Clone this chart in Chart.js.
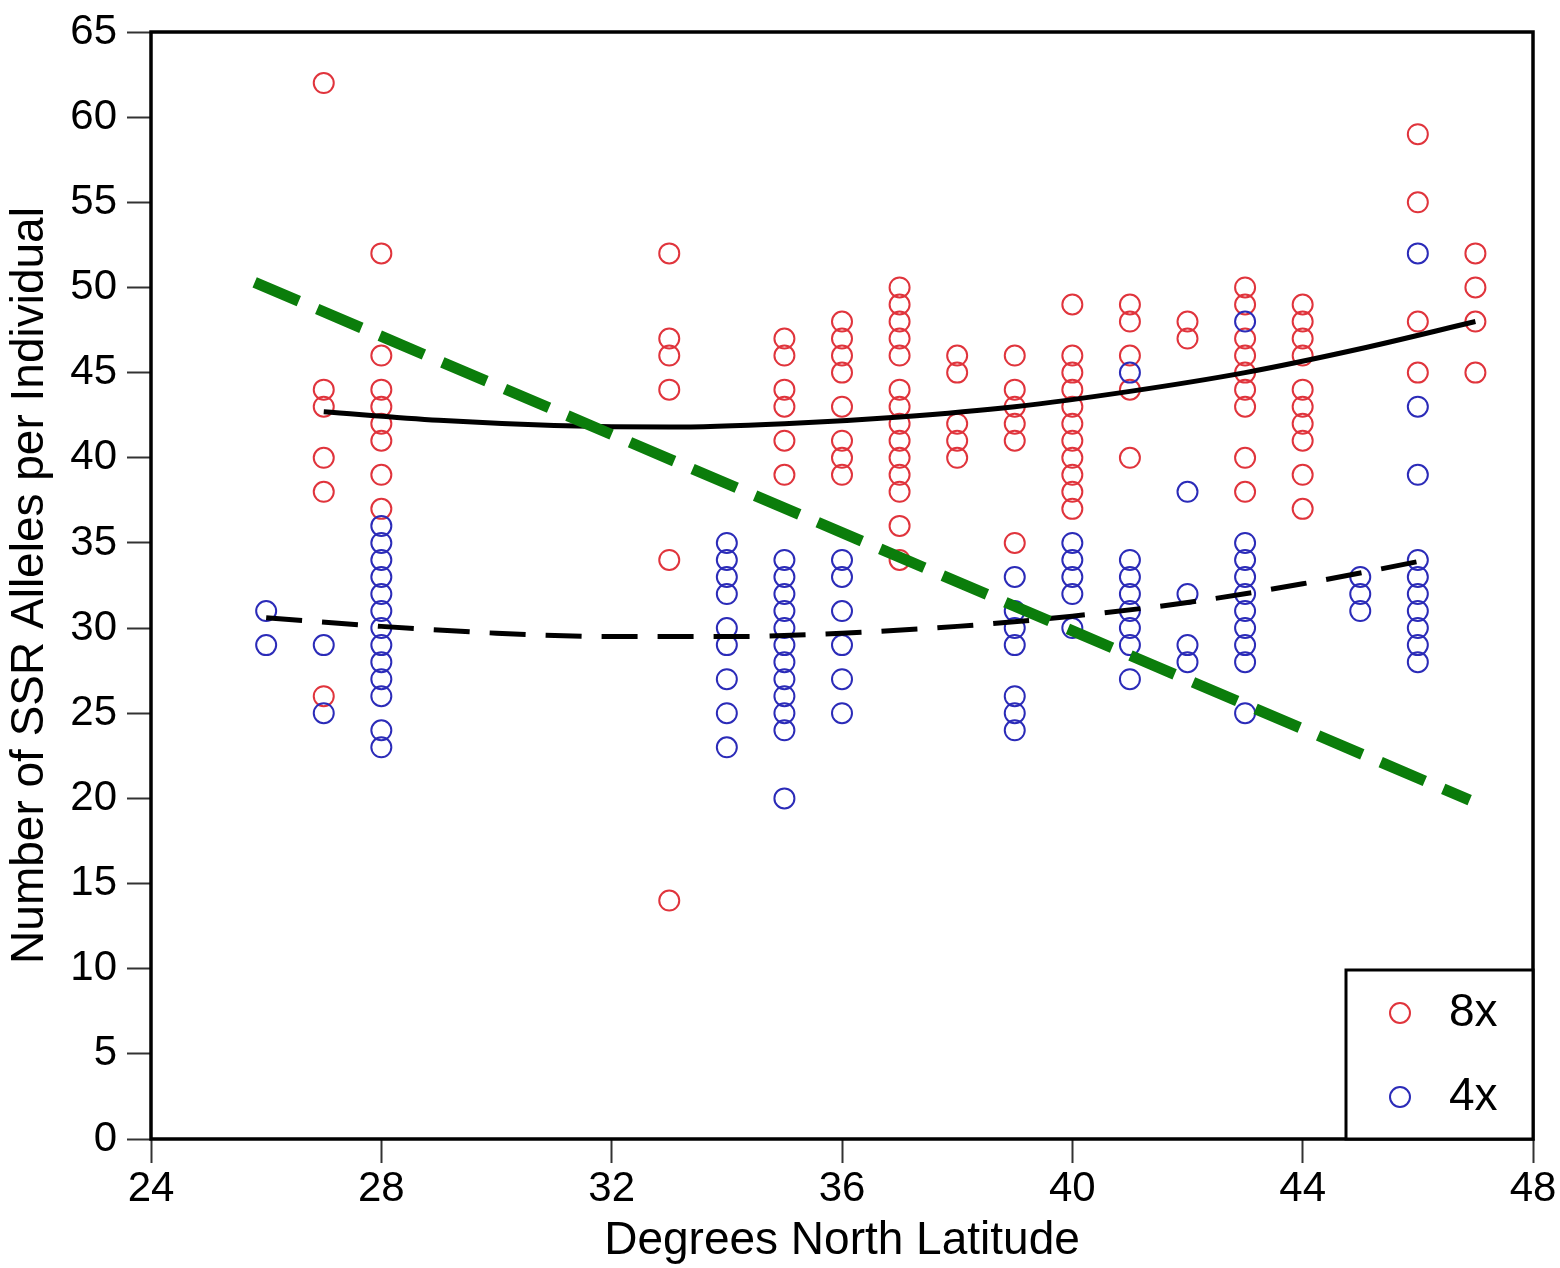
<!DOCTYPE html>
<html>
<head>
<meta charset="utf-8">
<script src="https://cdn.jsdelivr.net/npm/chart.js@4.4.1/dist/chart.umd.min.js"></script>
<style>
  html, body { margin: 0; padding: 0; background: #fff; }
  #wrap { width: 1560px; height: 1268px; }
</style>
</head>
<body>
<div id="wrap"><canvas id="c" width="1560" height="1268"></canvas></div>
<script>
// 8x (octoploid) individuals, grouped by latitude
const octoLat = [27, 28, 33, 35, 36, 37, 38, 39, 40, 41, 42, 43, 44, 46, 47];
const octoAlleles = [
  [62, 44, 43, 40, 38, 26],
  [52, 46, 44, 43, 42, 41, 39, 37],
  [52, 47, 46, 44, 34, 14],
  [47, 46, 44, 43, 41, 39],
  [48, 47, 46, 45, 43, 41, 40, 39],
  [50, 49, 48, 47, 46, 44, 43, 42, 41, 40, 39, 38, 36, 34],
  [46, 45, 42, 41, 40],
  [46, 44, 43, 42, 41, 35],
  [49, 46, 45, 44, 43, 42, 41, 40, 39, 38, 37],
  [49, 48, 46, 44, 40],
  [48, 47],
  [50, 49, 47, 46, 45, 44, 43, 40, 38],
  [49, 48, 47, 46, 44, 43, 42, 41, 39, 37],
  [59, 55, 48, 45],
  [52, 50, 48, 45]
];

// 4x (tetraploid) individuals, grouped by latitude
const tetraLat = [26, 27, 28, 34, 35, 36, 39, 40, 41, 42, 43, 45, 46];
const tetraAlleles = [
  [31, 29],
  [29, 25],
  [36, 35, 34, 33, 32, 31, 30, 29, 28, 27, 26, 24, 23],
  [35, 34, 33, 32, 30, 29, 27, 25, 23],
  [34, 33, 32, 31, 30, 29, 28, 27, 26, 25, 24, 20],
  [34, 33, 31, 29, 27, 25],
  [33, 31, 30, 29, 26, 25, 24],
  [35, 34, 33, 32, 30],
  [45, 34, 33, 32, 31, 30, 29, 27],
  [38, 32, 29, 28],
  [48, 35, 34, 33, 32, 31, 30, 29, 28, 25],
  [33, 32, 31],
  [52, 43, 39, 34, 33, 32, 31, 30, 29, 28]
];

// fitted curves
const fit8xLat = [27, 29, 31, 33, 35, 37, 39, 41, 43, 45, 47];
const fit8xVal = [42.7, 42.2, 41.9, 41.8, 42.0, 42.4, 43.0, 43.9, 45.0, 46.4, 48.0];
const fit4xLat = [26, 28, 30, 32, 34, 36, 38, 40, 42, 44, 46];
const fit4xVal = [30.6, 30.1, 29.7, 29.5, 29.5, 29.7, 30.1, 30.7, 31.5, 32.6, 33.9];

// green overlay line endpoints
const greenLat = [25.8, 46.9];
const greenVal = [50.3, 19.9];

const xTicks = [24, 28, 32, 36, 40, 44, 48];
const yTicks = [0, 5, 10, 15, 20, 25, 30, 35, 40, 45, 50, 55, 60, 65];

const RED = '#e0343c';
const BLUE = '#2b2bb8';
const FONT = "'Liberation Sans', Arial, Helvetica, sans-serif";

function toPoints(lats, groups) {
  const pts = [];
  lats.forEach((x, i) => groups[i].forEach(y => pts.push({ x, y })));
  return pts;
}
function zip(xs, ys) {
  return xs.map((x, i) => ({ x, y: ys[i] }));
}

const frame = {
  id: 'frame',
  afterDraw(chart) {
    const { ctx, chartArea: a } = chart;
    ctx.save();
    ctx.strokeStyle = '#000';
    ctx.lineWidth = 3.5;
    ctx.strokeRect(a.left, a.top, a.right - a.left, a.bottom - a.top);
    // legend box
    const lx = 1346, ly = 970;
    ctx.fillStyle = '#fff';
    ctx.fillRect(lx, ly, a.right - lx, a.bottom - ly);
    ctx.lineWidth = 3;
    ctx.strokeRect(lx, ly, a.right - lx, a.bottom - ly);
    const items = [['8x', RED, 1013], ['4x', BLUE, 1097]];
    ctx.font = '46px ' + FONT;
    ctx.textBaseline = 'middle';
    ctx.textAlign = 'left';
    items.forEach(([label, col, y]) => {
      ctx.beginPath();
      ctx.strokeStyle = col;
      ctx.lineWidth = 2;
      ctx.arc(1400, y, 10, 0, Math.PI * 2);
      ctx.stroke();
      ctx.fillStyle = '#000';
      ctx.fillText(label, 1449, y);
    });
    ctx.restore();
  }
};

new Chart(document.getElementById('c'), {
  type: 'scatter',
  data: {
    datasets: [
      {
        label: 'trend',
        data: zip(greenLat, greenVal),
        showLine: true,
        borderColor: '#0b7d0b',
        borderWidth: 11,
        borderDash: [48, 20],
        pointRadius: 0
      },
      {
        label: '8x fit',
        data: zip(fit8xLat, fit8xVal),
        showLine: true,
        borderColor: '#000',
        borderWidth: 5,
        cubicInterpolationMode: 'monotone',
        pointRadius: 0
      },
      {
        label: '4x fit',
        data: zip(fit4xLat, fit4xVal),
        showLine: true,
        borderColor: '#000',
        borderWidth: 5,
        borderDash: [36, 20],
        cubicInterpolationMode: 'monotone',
        pointRadius: 0
      },
      {
        label: '4x',
        data: toPoints(tetraLat, tetraAlleles),
        pointStyle: 'circle',
        pointRadius: 10,
        pointBorderWidth: 2,
        borderColor: BLUE,
        backgroundColor: 'rgba(0,0,0,0)'
      },
      {
        label: '8x',
        data: toPoints(octoLat, octoAlleles),
        pointStyle: 'circle',
        pointRadius: 10,
        pointBorderWidth: 2,
        borderColor: RED,
        backgroundColor: 'rgba(0,0,0,0)'
      }
    ]
  },
  options: {
    responsive: false,
    animation: false,
    devicePixelRatio: 1,
    layout: { padding: { top: 32, right: 27, left: 0, bottom: 0 } },
    plugins: {
      legend: { display: false },
      tooltip: { enabled: false }
    },
    scales: {
      x: {
        type: 'linear',
        min: 24, max: 48,
        afterFit: s => { s.height = 129; s.paddingRight = 0; },
        afterBuildTicks: s => { s.ticks = xTicks.map(v => ({ value: v })); },
        grid: { drawOnChartArea: false, tickLength: 24, tickWidth: 2, tickColor: '#333' },
        border: { display: false },
        ticks: { color: '#000', font: { family: FONT, size: 42 }, padding: 1, maxRotation: 0 },
        title: {
          display: true,
          text: 'Degrees North Latitude',
          color: '#000',
          font: { family: FONT, size: 46, lineHeight: 1.15 },
          padding: { top: 0, bottom: 0 }
        }
      },
      y: {
        min: 0, max: 65,
        afterFit: s => { s.width = 151; s.paddingTop = 0; s.paddingBottom = 0; },
        afterBuildTicks: s => { s.ticks = yTicks.map(v => ({ value: v })); },
        grid: { drawOnChartArea: false, tickLength: 24, tickWidth: 2, tickColor: '#333' },
        border: { display: false },
        ticks: { color: '#000', font: { family: FONT, size: 42 }, padding: 10 },
        title: {
          display: true,
          text: 'Number of SSR Alleles per Individual',
          color: '#000',
          font: { family: FONT, size: 46, lineHeight: 1.2 },
          padding: { top: 3, bottom: 0 }
        }
      }
    }
  },
  plugins: [frame]
});
</script>
</body>
</html>
